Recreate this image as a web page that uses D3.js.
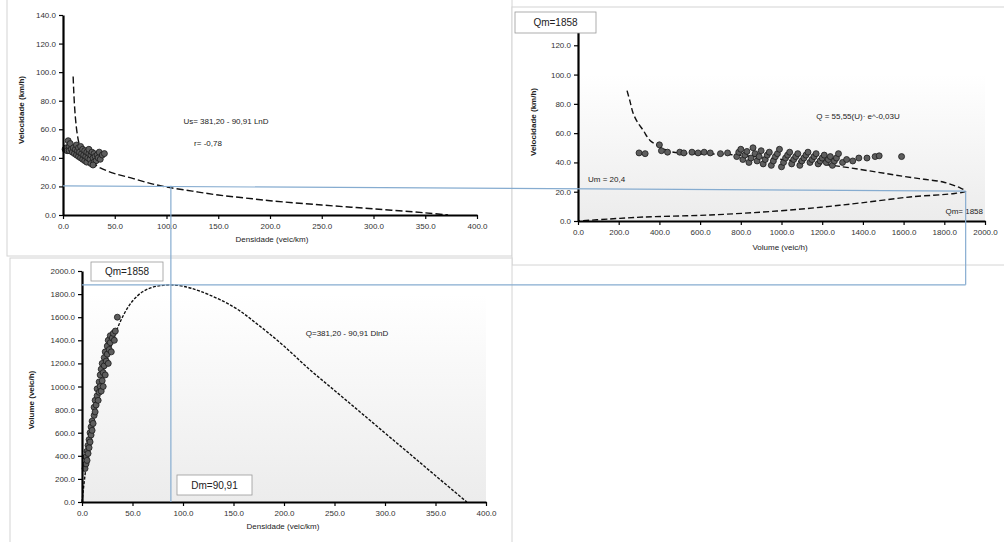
<!DOCTYPE html>
<html>
<head>
<meta charset="utf-8">
<script src="https://cdn.jsdelivr.net/npm/d3@7/dist/d3.min.js"></script>
<style>
  body { margin: 0; background: #fff; }
  svg text { font-family: "Liberation Sans", Arial, sans-serif; }
  .tick text { font-size: 8px; fill: #333; }
</style>
</head>
<body>
<div id="figure"></div>
<script>
// ---------- data ----------
// panel 1 : speed vs density
const speedTicks = [0, 20, 40, 60, 80, 100, 120, 140];
const speedTicksTop = [0, 20, 40, 60, 80, 100, 120]; // 140 sits under the Qm box
const densTicks = [0, 50, 100, 150, 200, 250, 300, 350, 400];
const speedDensCurve = [[9.8,97],[10.3,88],[11,78],[12,68],[13.5,58],[15.5,50],[18,45],[22,41],[28,37],
  [36,33],[50,29],[68,25.5],[85,22],[100,19.6],[125,16.7],[150,14],[175,12],[200,10],[250,7],
  [300,4.3],[350,1.5],[372,0]];
const speedDensObs = [[2,46],[3,47],[4,45],[5,52],[6,48],[6,45],[7,50],[8,46],[9,44],[10,47],[11,43],
  [12,46],[13,49],[13,42],[14,45],[15,41],[15,47],[16,44],[17,48],[17,40],[18,43],[19,46],[19,39],
  [20,42],[21,45],[21,38],[22,41],[23,44],[23,37],[24,40],[25,43],[25,46],[26,39],[27,42],[27,36],
  [28,44],[29,40],[30,37],[30,43],[31,41],[32,38],[33,42],[34,40],[35,44],[36,39],[38,42],[40,43],[29,35]];

// panel 2 : speed vs volume
const volTicks = [0, 200, 400, 600, 800, 1000, 1200, 1400, 1600, 1800, 2000];
const speedVolCurve = [[241,89],[255,82],[270,74],[290,68],[320,62],[354,55],[400,51],[452,47.5],
  [550,46],[732,45.5],[900,43.5],[1100,40.5],[1302,37],[1469,33.4],[1600,30.5],[1700,28.5],
  [1794,26.6],[1880,22.5],[1905,20.4],[1850,18.8],[1631,16.4],[1386,12.3],[1200,9.5],[977,6.8],
  [649,4.1],[320,2.7],[157,1.4],[0,0]];
const speedVolObs = [[300,46.5],[330,46],[400,52],[410,48],[440,47],[500,47],[520,46.5],[560,47],
  [590,46.5],[620,47],[650,46.5],[700,46],[735,46.5],
  [780,44],[790,47],[800,49],[810,42],[820,45],[830,47.5],[840,40],[850,43],[860,50],[870,46],
  [880,41],[890,44],[900,48],[910,39],[920,42],[930,45],[940,47],[950,38],[960,41],[970,44],
  [980,46],[990,49],[1000,37],[1010,40],[1020,43],[1030,45],[1040,47],[1050,39],[1060,42],
  [1070,44],[1080,46],[1090,38],[1100,41],[1110,43],[1120,45],[1130,47],[1140,40],[1150,42],
  [1160,44],[1170,46],[1180,39],[1190,41],[1200,43],[1210,45],[1220,40],[1230,42],[1240,44],
  [1250,38],[1260,41],[1270,43],[1280,46],[1300,40],[1320,42],[1350,41],[1380,43],[1420,43],
  [1460,44],[1480,44.5],[1590,44]];

// panel 3 : volume vs density
const flowTicks = [0, 200, 400, 600, 800, 1000, 1200, 1400, 1600, 1800, 2000];
const flowDensCurve = [[0,0],[4,300],[10,620],[20,1050],[30,1380],[40,1600],[50,1740],[60,1820],
  [70,1860],[80,1876],[88,1880],[100,1868],[117,1825],[150,1690],[175,1530],[200,1350],[225,1150],
  [250,966],[275,782],[300,597],[325,413],[350,228],[381,0]];
const flowDensObs = [[3,290],[4,330],[4,390],[5,360],[5,440],[6,420],[6,490],[7,470],[7,540],[8,520],
  [8,600],[9,580],[9,650],[10,620],[10,700],[11,680],[12,750],[12,820],[13,780],[13,880],[14,840],
  [15,920],[15,980],[16,880],[17,950],[17,1040],[18,1000],[18,1100],[19,960],[19,1150],[20,1050],
  [20,1200],[21,1120],[21,1000],[22,1180],[22,1250],[23,1100],[23,1300],[24,1220],[25,1280],
  [25,1350],[26,1200],[26,1400],[27,1320],[28,1380],[28,1440],[29,1300],[30,1420],[31,1460],
  [32,1400],[33,1480],[35,1600]];

// critical point used by the connector lines
const critSpeed = 20.4, critDens = 88, critFlowTop = 1905, critFlowBottom = 1880;

// ---------- drawing ----------
const svg = d3.select("#figure").append("svg")
  .attr("width", 1004).attr("height", 542);

const defs = svg.append("defs");
const grad = defs.append("linearGradient").attr("id", "bg").attr("x1", 0).attr("y1", 0).attr("x2", 0).attr("y2", 1);
grad.append("stop").attr("offset", "0%").attr("stop-color", "#ffffff");
grad.append("stop").attr("offset", "100%").attr("stop-color", "#ececec");

// panel frames
[[7, -2, 505, 258], [512, 7, 500, 258], [10, 258, 502, 300]].forEach(r => {
  svg.append("rect").attr("x", r[0]).attr("y", r[1]).attr("width", r[2]).attr("height", r[3])
    .attr("fill", "#fff").attr("stroke", "#d4d4d4");
});

// scales (pixel ranges are the plot areas)
const xTL = d3.scaleLinear().domain([0, 400]).range([63, 477]);
const yTL = d3.scaleLinear().domain([0, 140]).range([215, 15]);
const xTR = d3.scaleLinear().domain([0, 2000]).range([578, 985]);
const yTR = d3.scaleLinear().domain([0, 140]).range([221, 16]);
const xB = d3.scaleLinear().domain([0, 400]).range([82, 486]);
const yB = d3.scaleLinear().domain([0, 2000]).range([502, 271]);

// light plot backgrounds
svg.append("rect").attr("x", xTR(0)).attr("y", yTR(100)).attr("width", xTR(2000) - xTR(0))
  .attr("height", yTR(0) - yTR(100)).attr("fill", "url(#bg)");
svg.append("rect").attr("x", xB(0)).attr("y", yB(1800)).attr("width", xB(400) - xB(0))
  .attr("height", yB(0) - yB(1800)).attr("fill", "url(#bg)");

function drawCurve(data, x, y, dash) {
  svg.append("path").datum(data)
    .attr("fill", "none").attr("stroke", "#111").attr("stroke-width", 1.4)
    .attr("stroke-dasharray", dash)
    .attr("d", d3.line().x(d => x(d[0])).y(d => y(d[1])).curve(d3.curveCatmullRom));
}
function drawDots(data, x, y) {
  svg.append("g").selectAll("circle").data(data).join("circle")
    .attr("cx", d => x(d[0])).attr("cy", d => y(d[1])).attr("r", 3)
    .attr("fill", "#5e5e5e").attr("stroke", "#1a1a1a").attr("stroke-width", 0.8);
}
function drawAxes(x, y, xt, yt) {
  const fmt = d3.format(".1f");
  const gx = svg.append("g").attr("transform", `translate(0,${y.range()[0]})`)
    .call(d3.axisBottom(x).tickValues(xt).tickFormat(fmt).tickSize(4).tickSizeOuter(0));
  const gy = svg.append("g").attr("transform", `translate(${x.range()[0]},0)`)
    .call(d3.axisLeft(y).tickValues(yt).tickFormat(fmt).tickSize(4).tickSizeOuter(0));
  [gx, gy].forEach(g => {
    g.select(".domain").attr("stroke", "#000").attr("stroke-width", 2.2);
    g.selectAll(".tick line").attr("stroke", "#000").attr("stroke-width", 1.2);
  });
  gx.selectAll(".tick text").attr("dy", "0.9em");
}
function label(txt, x, y, opts = {}) {
  const t = svg.append("text").attr("x", x).attr("y", y).text(txt)
    .attr("font-size", opts.size || 8).attr("fill", opts.fill || "#222")
    .attr("text-anchor", opts.anchor || "middle")
    .attr("font-weight", opts.bold ? "bold" : "normal");
  if (opts.rotate) t.attr("transform", `rotate(-90,${x},${y})`);
  return t;
}
function box(txt, x, y, w, h) {
  svg.append("rect").attr("x", x).attr("y", y).attr("width", w).attr("height", h)
    .attr("fill", "#fff").attr("stroke", "#9a9a9a").attr("stroke-width", 0.8);
  label(txt, x + w / 2, y + h / 2 + 3.5, { size: 10 });
}

// panel 1
drawCurve(speedDensCurve, xTL, yTL, "7,3");
drawDots(speedDensObs, xTL, yTL);
drawAxes(xTL, yTL, densTicks, speedTicks);
label("Velocidade (km/h)", 24, 110, { rotate: true, bold: true });
label("Densidade (veic/km)", 272, 242);
label("Us= 381,20 - 90,91 LnD", 226, 124);
label("r= -0,78", 208, 146);

// panel 2
drawCurve(speedVolCurve, xTR, yTR, "6,3");
drawDots(speedVolObs, xTR, yTR);
drawAxes(xTR, yTR, volTicks, speedTicksTop);
label("Velocidade (km/h)", 536, 122, { rotate: true, bold: true });
label("Volume (veic/h)", 780, 250);
label("Q = 55,55(U)· e^-0,03U", 858, 119);
label("Um = 20,4", 588, 182, { anchor: "start" });
label("Qm= 1858", 983, 214, { anchor: "end" });

// panel 3
drawCurve(flowDensCurve, xB, yB, "3,1.5");
drawDots(flowDensObs, xB, yB);
drawAxes(xB, yB, densTicks, flowTicks);
label("Volume (veic/h)", 34, 400, { rotate: true, bold: true });
label("Densidade (veic/km)", 283, 529);
label("Q=381,20 - 90,91 DlnD", 347, 336);

// connector lines between the three panels
const conn = svg.append("g").attr("stroke", "#86acd0").attr("stroke-width", 1.2).attr("fill", "none");
conn.append("line").attr("x1", xTL(0)).attr("y1", yTL(critSpeed)).attr("x2", xTR(critFlowTop)).attr("y2", yTR(critSpeed));
conn.append("line").attr("x1", xB(critDens)).attr("y1", yTL(critSpeed)).attr("x2", xB(critDens)).attr("y2", yB(0));
conn.append("line").attr("x1", xB(0)).attr("y1", yB(critFlowBottom)).attr("x2", xTR(critFlowTop)).attr("y2", yB(critFlowBottom));
conn.append("line").attr("x1", xTR(critFlowTop)).attr("y1", yTR(critSpeed)).attr("x2", xTR(critFlowTop)).attr("y2", yB(critFlowBottom));

// value boxes
box("Qm=1858", 515, 12, 81, 21);
box("Qm=1858", 91, 262, 72, 19);
box("Dm=90,91", 177, 475, 75, 20);
</script>
</body>
</html>
